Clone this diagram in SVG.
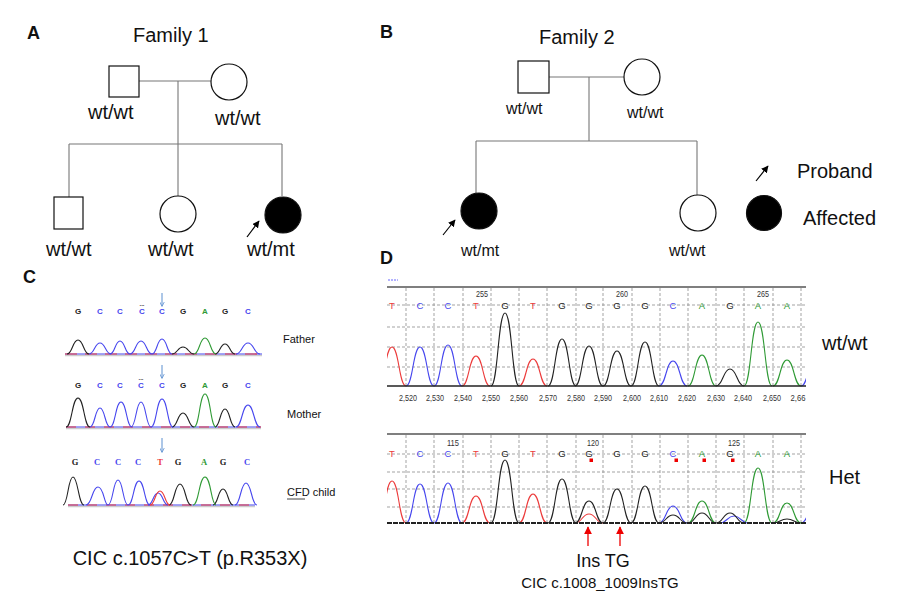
<svg xmlns="http://www.w3.org/2000/svg" width="911" height="604" viewBox="0 0 911 604">
<style>
.t{font-family:"Liberation Sans",Arial,sans-serif;fill:#111}
.lbl{font-family:"Liberation Sans",Arial,sans-serif;font-weight:bold;font-size:18px;fill:#111}
.sym{fill:#fff;stroke:#111;stroke-width:1.2}
.aff{fill:#000;stroke:#111;stroke-width:1.2}
.ped{stroke:#777;stroke-width:1.1;fill:none}
.tr{fill:none;stroke-width:1.1}
.r{stroke:#ec3b3b}.b{stroke:#4646ee}.k{stroke:#222}.g{stroke:#2f9a35}
.grid{stroke:#999;stroke-width:0.9;stroke-dasharray:3 2;fill:none}
.bs{font-family:"Liberation Sans",Arial,sans-serif;font-size:9.5px;text-anchor:middle}
.bc{font-family:"Liberation Sans",Arial,sans-serif;font-size:8px;font-weight:bold;text-anchor:middle}
.bc3{font-family:"Liberation Serif","Times New Roman",serif;font-size:8.5px;font-weight:bold;text-anchor:middle}
.num{font-family:"Liberation Sans",Arial,sans-serif;font-size:9.5px;fill:#333;text-anchor:middle}
.ax{font-family:"Liberation Sans",Arial,sans-serif;font-size:9.5px;fill:#333;text-anchor:middle}
.fr{fill:#ec3b3b}.fb{fill:#4646ee}.fk{fill:#222}.fg{fill:#2f9a35}
</style>
<defs>
<marker id="ah" viewBox="0 0 10 10" refX="9" refY="5" markerWidth="6" markerHeight="6" orient="auto"><path d="M0,0 L10,5 L0,10 z" fill="#000"/></marker>
<marker id="ahb" viewBox="0 0 10 10" refX="9" refY="5" markerWidth="5" markerHeight="5" orient="auto"><path d="M0,0 L10,5 L0,10" fill="none" stroke="#5b8fd0" stroke-width="1.5"/></marker>
<marker id="ahr" viewBox="0 0 10 10" refX="9" refY="5" markerWidth="6" markerHeight="6" orient="auto"><path d="M0,0 L10,5 L0,10 z" fill="#e00"/></marker>
<clipPath id="cd"><rect x="387" y="280" width="419" height="250"/></clipPath>
</defs>
<rect width="911" height="604" fill="#fff"/>

<!-- Panel labels -->
<text class="lbl" x="27" y="39">A</text>
<text class="lbl" x="380" y="38">B</text>
<text class="lbl" x="23" y="283" font-size="15">C</text>
<text class="lbl" x="380" y="264">D</text>
<text class="t" x="133" y="42" font-size="20">Family 1</text>
<text class="t" x="539" y="44" font-size="20">Family 2</text>

<!-- Pedigree connectors -->
<g id="connectors">
<path class="ped" d="M139,81 H211 M178,81 V144 M69,144 H282 M69,144 V197 M178,144 V196 M282,144 V196"/>
<path class="ped" d="M549,77 H624 M589,77 V141 M476,141 H697 M476,141 V193 M697,141 V195"/>
<line x1="247" y1="237" x2="259" y2="221" stroke="#000" stroke-width="1.2" marker-end="url(#ah)"/>
<line x1="443" y1="235" x2="455" y2="220" stroke="#000" stroke-width="1.2" marker-end="url(#ah)"/>
</g>

<!-- Family 1 -->
<g id="f1-father"><rect class="sym" x="109" y="66" width="30" height="31"/><text class="t" x="88" y="119" font-size="20">wt/wt</text></g>
<g id="f1-mother"><circle class="sym" cx="229" cy="82" r="18"/><text class="t" x="215" y="125" font-size="20">wt/wt</text></g>
<g id="f1-son"><rect class="sym" x="54" y="197" width="29" height="32"/><text class="t" x="46" y="256" font-size="20">wt/wt</text></g>
<g id="f1-daughter"><circle class="sym" cx="178" cy="214" r="18"/><text class="t" x="148" y="256" font-size="20">wt/wt</text></g>
<g id="f1-proband"><circle class="aff" cx="283" cy="215" r="18"/><text class="t" x="247" y="256" font-size="20">wt/mt</text></g>

<!-- Family 2 -->
<g id="f2-father"><rect class="sym" x="518" y="61" width="31" height="32"/><text class="t" x="506" y="114" font-size="16">wt/wt</text></g>
<g id="f2-mother"><circle class="sym" cx="642" cy="77" r="18"/><text class="t" x="627" y="118" font-size="16">wt/wt</text></g>
<g id="f2-proband"><circle class="aff" cx="479" cy="211" r="18"/><text class="t" x="461" y="256" font-size="16">wt/mt</text></g>
<g id="f2-sister"><circle class="sym" cx="698" cy="213" r="18"/><text class="t" x="669" y="256" font-size="16">wt/wt</text></g>

<!-- Legend -->
<g id="legend">
<line x1="756" y1="181" x2="768" y2="166" stroke="#000" stroke-width="1.2" marker-end="url(#ah)"/>
<text class="t" x="797" y="178" font-size="20">Proband</text>
<circle class="aff" cx="764" cy="213" r="17.5"/>
<text class="t" x="803" y="225" font-size="20">Affected</text>
</g>

<!-- Panel C -->
<g id="panel-c">
<line x1="162" y1="293" x2="162" y2="306" stroke="#5b8fd0" stroke-width="1" marker-end="url(#ahb)"/>
<line x1="162" y1="365" x2="162" y2="378" stroke="#5b8fd0" stroke-width="1" marker-end="url(#ahb)"/>
<line x1="162" y1="438" x2="162" y2="452" stroke="#5b8fd0" stroke-width="1" marker-end="url(#ahb)"/>
<g class="bc">
<text x="78" y="314" class="fk">G</text><text x="100" y="314" class="fb">C</text><text x="120" y="314" class="fb">C</text><text x="142" y="314" class="fb">C</text><text x="162" y="314" class="fb">C</text><text x="183" y="314" class="fk">G</text><text x="205" y="314" class="fg">A</text><text x="225" y="314" class="fk">G</text><text x="248" y="314" class="fb">C</text>
<text x="142" y="306" class="fk" font-size="6">...</text>
<text x="78" y="388" class="fk">G</text><text x="100" y="388" class="fb">C</text><text x="120" y="388" class="fb">C</text><text x="141" y="388" class="fb">C</text><text x="162" y="388" class="fb">C</text><text x="183" y="388" class="fk">G</text><text x="205" y="388" class="fg">A</text><text x="225" y="388" class="fk">G</text><text x="248" y="388" class="fb">C</text>
<text x="141" y="380" class="fk" font-size="6">...</text>
</g>
<g class="bc3">
<text x="75" y="465" class="fk">G</text><text x="97" y="465" class="fb">C</text><text x="118" y="465" class="fb">C</text><text x="138" y="465" class="fb">C</text><text x="160" y="465" class="fr">T</text><text x="178" y="465" class="fk">G</text><text x="204" y="465" class="fg">A</text><text x="223" y="465" class="fk">G</text><text x="247" y="465" class="fb">C</text>
</g>
<!-- baselines -->
<line x1="65" y1="355.5" x2="262" y2="355.5" stroke="#ccc" stroke-width="1.5"/>
<line x1="65" y1="354" x2="262" y2="354" stroke="#4646ee" stroke-width="1.2"/>
<line x1="65" y1="354" x2="262" y2="354" stroke="#ec3b3b" stroke-width="1.2" stroke-dasharray="12 8"/>
<line x1="66" y1="428.5" x2="261" y2="428.5" stroke="#ccc" stroke-width="1.5"/>
<line x1="66" y1="427" x2="261" y2="427" stroke="#4646ee" stroke-width="1.2"/>
<line x1="66" y1="427" x2="261" y2="427" stroke="#ec3b3b" stroke-width="1.2" stroke-dasharray="10 9"/>
<line x1="68" y1="506.5" x2="255" y2="506.5" stroke="#ccc" stroke-width="1.5"/>
<line x1="68" y1="505" x2="255" y2="505" stroke="#4646ee" stroke-width="1.2"/>
<line x1="68" y1="505" x2="255" y2="505" stroke="#ec3b3b" stroke-width="1.2" stroke-dasharray="10 9"/>
<!-- father -->
<path class="tr k" d="M67,354 C72.5,354 72.5,340 78,340 S83.5,354 89,354 M172,354 C177.5,354 177.5,347 183,347 S188.5,354 194,354 M215,354 C220,354 220,344 225,344 S230,354 235,354"/>
<path class="tr b" d="M89,354 C94.5,354 94.5,343 100,343 S105.5,354 111,354 M110,354 C115,354 115,341 120,341 S125,354 130,354 M130,354 C135.5,354 135.5,341 141,341 S146.5,354 152,354 M152,354 C157,354 157,339 162,339 S167,354 172,354 M236,354 C242,354 242,343 248,343 S254,354 260,354"/>
<path class="tr g" d="M194,354 C199.5,354 199.5,338 205,338 S210.5,354 216,354"/>
<!-- mother -->
<path class="tr k" d="M66,427 C72,427 72,398 78,398 S84,427 90,427 M172,427 C177.5,427 177.5,413 183,413 S188.5,427 194,427 M215,427 C220,427 220,409 225,409 S230,427 235,427"/>
<path class="tr b" d="M90,427 C95,427 95,408 100,408 S105,427 110,427 M110,427 C115.5,427 115.5,402 121,402 S126.5,427 132,427 M131,427 C136,427 136,402 141,402 S146,427 151,427 M151,427 C156.5,427 156.5,399 162,399 S167.5,427 173,427 M236,427 C242,427 242,405 248,405 S254,427 260,427"/>
<path class="tr g" d="M194,427 C199.5,427 199.5,394 205,394 S210.5,427 216,427"/>
<!-- child -->
<path class="tr k" d="M63,505 C68,505 68,477 73,477 S78.5,505 84,505 M169,505 C174.5,505 174.5,484 180,484 S185.5,505 191,505 M213,505 C218,505 218,489 223,489 S228,505 233,505"/>
<path class="tr b" d="M86,505 C92,505 92,487 98,487 S104,505 108,505 M108,505 C113,505 113,480 118,480 S123,505 128,505 M128,505 C133.5,505 133.5,481 139,481 S144.5,505 150,505 M148,505 C153,505 153,493 158,493 S163,505 168,505 M235,505 C240.5,505 240.5,483 246,483 S251.5,505 257,505"/>
<path class="tr r" d="M150,505 C155,505 155,491 160,491 S165,505 170,505"/>
<path class="tr g" d="M193,505 C199,505 199,477 205,477 S211,505 216,505"/>
<text class="t" x="283" y="343" font-size="11">Father</text>
<text class="t" x="287" y="418" font-size="11">Mother</text>
<text class="t" x="287" y="496" font-size="11">CFD child</text>
<line x1="287" y1="499" x2="305" y2="499" stroke="#111" stroke-width="0.8"/>
<text class="t" x="190" y="565" font-size="20" text-anchor="middle">CIC c.1057C&gt;T (p.R353X)</text>
</g>

<!-- Panel D -->
<g id="panel-d">
<line x1="388" y1="280" x2="398" y2="280" stroke="#99f" stroke-width="1.5" stroke-dasharray="2 1"/>
<line x1="387" y1="287" x2="806" y2="287" stroke="#555" stroke-width="1.5"/>
<line x1="387" y1="434" x2="806" y2="434" stroke="#555" stroke-width="1.5"/>
<path class="grid" d="M406,288 V386 M434,288 V386 M463,288 V386 M491,288 V386 M519,288 V386 M547,288 V386 M576,288 V386 M603,288 V386 M632,288 V386 M660,288 V386 M688,288 V386 M716,288 V386 M744,288 V386 M773,288 V386 M801,288 V386 M387,305 H806 M387,327 H806 M387,347 H806 M387,367 H806"/>
<path class="grid" d="M406,435 V523 M434,435 V523 M463,435 V523 M491,435 V523 M519,435 V523 M547,435 V523 M576,435 V523 M603,435 V523 M632,435 V523 M660,435 V523 M688,435 V523 M716,435 V523 M744,435 V523 M773,435 V523 M801,435 V523 M387,454 H806 M387,472 H806 M387,489 H806 M387,507 H806"/>
<g class="bs">
<text x="392" y="309" class="fr">T</text><text x="420" y="309" class="fb">C</text><text x="448" y="309" class="fb">C</text><text x="476" y="309" class="fr">T</text><text x="505" y="309" class="fk">G</text><text x="533" y="309" class="fr">T</text><text x="562" y="309" class="fk">G</text><text x="589" y="309" class="fk">G</text><text x="617" y="309" class="fk">G</text><text x="645" y="309" class="fk">G</text><text x="673" y="309" class="fb">C</text><text x="702" y="309" class="fg">A</text><text x="730" y="309" class="fk">G</text><text x="758" y="309" class="fg">A</text><text x="787" y="309" class="fg">A</text>
<text x="392" y="457" class="fr">T</text><text x="420" y="457" class="fb">C</text><text x="448" y="457" class="fb">C</text><text x="476" y="457" class="fr">T</text><text x="505" y="457" class="fk">G</text><text x="533" y="457" class="fr">T</text><text x="562" y="457" class="fk">G</text><text x="589" y="457" class="fk">G</text><text x="617" y="457" class="fk">G</text><text x="645" y="457" class="fk">G</text><text x="673" y="457" class="fb">C</text><text x="702" y="457" class="fg">A</text><text x="730" y="457" class="fk">G</text><text x="758" y="457" class="fg">A</text><text x="787" y="457" class="fg">A</text>
</g>
<g class="num">
<text x="482" y="297" textLength="12" lengthAdjust="spacingAndGlyphs">255</text><text x="622" y="297" textLength="12" lengthAdjust="spacingAndGlyphs">260</text><text x="763" y="297" textLength="12" lengthAdjust="spacingAndGlyphs">265</text>
<text x="453" y="446" textLength="12" lengthAdjust="spacingAndGlyphs">115</text><text x="593" y="446" textLength="12" lengthAdjust="spacingAndGlyphs">120</text><text x="734" y="446" textLength="12" lengthAdjust="spacingAndGlyphs">125</text>
</g>
<g class="ax">
<text x="408" y="401" textLength="18" lengthAdjust="spacingAndGlyphs">2,520</text><text x="435" y="401" textLength="18" lengthAdjust="spacingAndGlyphs">2,530</text><text x="463" y="401" textLength="18" lengthAdjust="spacingAndGlyphs">2,540</text><text x="491" y="401" textLength="18" lengthAdjust="spacingAndGlyphs">2,550</text><text x="519" y="401" textLength="18" lengthAdjust="spacingAndGlyphs">2,560</text><text x="548" y="401" textLength="18" lengthAdjust="spacingAndGlyphs">2,570</text><text x="576" y="401" textLength="18" lengthAdjust="spacingAndGlyphs">2,580</text><text x="603" y="401" textLength="18" lengthAdjust="spacingAndGlyphs">2,590</text><text x="632" y="401" textLength="18" lengthAdjust="spacingAndGlyphs">2,600</text><text x="659" y="401" textLength="18" lengthAdjust="spacingAndGlyphs">2,610</text><text x="687" y="401" textLength="18" lengthAdjust="spacingAndGlyphs">2,620</text><text x="716" y="401" textLength="18" lengthAdjust="spacingAndGlyphs">2,630</text><text x="743" y="401" textLength="18" lengthAdjust="spacingAndGlyphs">2,640</text><text x="772" y="401" textLength="18" lengthAdjust="spacingAndGlyphs">2,650</text><text x="798" y="401" textLength="15" lengthAdjust="spacingAndGlyphs">2,66</text>
</g>
<g fill="#e00">
<rect x="589.5" y="458.5" width="3.5" height="3.5"/><rect x="674.5" y="458.5" width="3.5" height="3.5"/><rect x="702.5" y="458.5" width="3.5" height="3.5"/><rect x="731" y="458.5" width="3.5" height="3.5"/>
</g>
<g clip-path="url(#cd)">
<path class="tr r" d="M378,386 C385,386 385,347 392,347 S399,386 406,386 M462,386 C469,386 469,356 476,356 S483,386 490,386 M519,386 C526,386 526,359 533,359 S540,386 547,386"/>
<path class="tr b" d="M406,386 C413,386 413,347 420,347 S427,386 434,386 M434,386 C441,386 441,345 448,345 S455,386 462,386 M659,386 C666,386 666,361 673,361 S680,386 687,386 M801,386 C808,386 808,360 815,360"/>
<path class="tr k" d="M491,386 C498,386 498,313 505,313 S512,386 519,386 M548,386 C555,386 555,339 562,339 S569,386 576,386 M575,386 C582,386 582,346 589,346 S596,386 603,386 M603,386 C610,386 610,351 617,351 S624,386 631,386 M631,386 C638,386 638,342 645,342 S652,386 659,386 M716,386 C723,386 723,369 730,369 S737,386 744,386"/>
<path class="tr g" d="M688,386 C695,386 695,355 702,355 S709,386 716,386 M744,386 C751,386 751,322 758,322 S765,386 772,386 M773,386 C780,386 780,360 787,360 S794,386 801,386"/>
<path class="tr r" d="M378,523 C385,523 385,481 392,481 S399,523 406,523 M462,523 C469,523 469,496 476,496 S483,523 490,523 M519,523 C526,523 526,494 533,494 S540,523 547,523 M575,523 C582,523 582,514 589,514 S596,523 603,523"/>
<path class="tr b" d="M406,523 C413,523 413,484 420,484 S427,523 434,523 M434,523 C441,523 441,483 448,483 S455,523 462,523 M659,523 C666,523 666,506 673,506 S680,523 687,523 M720,523 C727,523 727,516 734,516 S741,523 748,523 M801,523 C808,523 808,505 815,505"/>
<path class="tr k" d="M491,523 C498,523 498,460 505,460 S512,523 519,523 M548,523 C555,523 555,479 562,479 S569,523 576,523 M575,523 C582,523 582,501 589,501 S596,523 603,523 M603,523 C610,523 610,489 617,489 S624,523 631,523 M631,523 C638,523 638,486 645,486 S652,523 659,523 M659,523 C666,523 666,515 673,515 S680,523 687,523 M688,523 C695,523 695,513 702,513 S709,523 716,523 M716,523 C723,523 723,513 730,513 S737,523 744,523 M773,523 C780,523 780,519 787,519 S794,523 801,523"/>
<path class="tr g" d="M688,523 C695,523 695,501 702,501 S709,523 716,523 M744,523 C751,523 751,468 758,468 S765,523 772,523 M773,523 C780,523 780,503 787,503 S794,523 801,523"/>
</g>
<line x1="387" y1="386" x2="806" y2="386" stroke="#222" stroke-width="1.6"/>
<line x1="387" y1="523" x2="806" y2="523" stroke="#222" stroke-width="1.8" stroke-dasharray="5 1"/>
<line x1="588" y1="546" x2="588" y2="527" stroke="#e00" stroke-width="1.3" marker-end="url(#ahr)"/>
<line x1="620" y1="546" x2="620" y2="527" stroke="#e00" stroke-width="1.3" marker-end="url(#ahr)"/>
<text class="t" x="603" y="567" font-size="18" text-anchor="middle">Ins TG</text>
<text class="t" x="600" y="588" font-size="15" text-anchor="middle">CIC c.1008_1009InsTG</text>
<text class="t" x="822" y="350" font-size="20">wt/wt</text>
<text class="t" x="829" y="484" font-size="20">Het</text>
</g>
</svg>
